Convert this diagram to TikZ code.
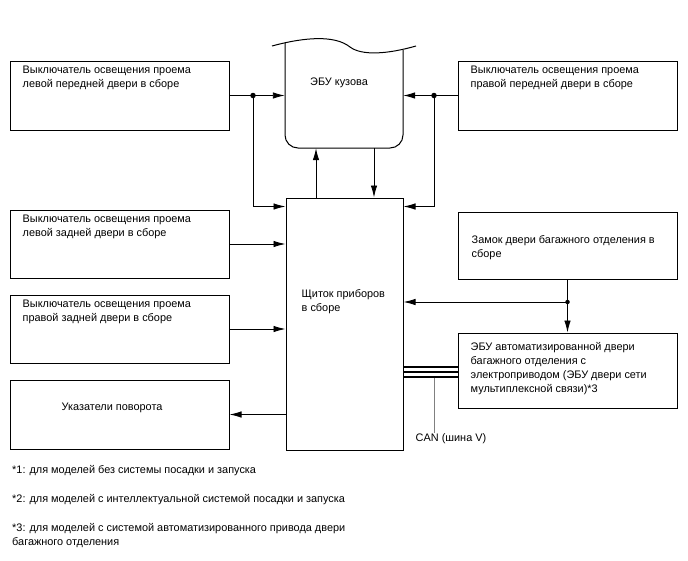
\documentclass[tikz,border=0pt]{standalone}
\usepackage{fontspec}
\setmainfont{Liberation Sans}
\usetikzlibrary{arrows.meta}

\tikzset{
  blk/.style={draw, line width=1pt, minimum width=219pt, minimum height=69pt, inner sep=0pt},
  txt/.style={anchor=north west, inner sep=0pt, align=left, font=\fontsize{10.9}{14}\selectfont},
  arr/.style={-{Latex[length=12pt,width=6.5pt]}, line width=0.9pt},
  jdot/.style={circle, fill, inner sep=0pt, minimum size=5.5pt},
  canline/.style={line width=2.2pt}
}

\begin{document}
\begin{tikzpicture}[x=1pt,y=-1pt]
\useasboundingbox (0,0) rectangle (688,560);

% Blocks
\node[blk] (lf) at (119.5,95.5) {};
\node[blk] (rf) at (567.5,95.5) {};
\node[blk, minimum height=68pt] (lr) at (119.5,244) {};
\node[blk, minimum height=68pt] (rr) at (119.5,329) {};
\node[blk] (ts) at (119.5,414.5) {};
\node[blk, minimum height=67pt] (tl) at (567.5,245.5) {};
\node[blk, minimum height=75pt] (pd) at (567.5,370.5) {};
\node[blk, minimum width=117pt, minimum height=252pt] (ic) at (344.5,324) {};

% Body ECU (torn top edge)
\node[minimum width=118pt, minimum height=103pt, inner sep=0pt] (ecu) at (344,96.5) {};
\draw[line width=1pt, rounded corners=13pt] (285,43) -- (285,148) -- (403,148) -- (403,50);
\draw[line width=1pt] (272,46) .. controls (305,37) and (335,35) .. (350,47)
  .. controls (362,56) and (388,54) .. (416,46);

% Texts
\node[txt] (lft) at ([shift={(13,5)}]lf.north west) {Выключатель освещения проема\\левой передней двери в сборе};
\node[txt] (rft) at ([shift={(13,5)}]rf.north west) {Выключатель освещения проема\\правой передней двери в сборе};
\node[txt] (lrt) at ([shift={(13,5)}]lr.north west) {Выключатель освещения проема\\левой задней двери в сборе};
\node[txt] (rrt) at ([shift={(13,5)}]rr.north west) {Выключатель освещения проема\\правой задней двери в сборе};
\node[txt] (tst) at ([shift={(52,23)}]ts.north west) {Указатели поворота};
\node[txt] (tlt) at ([shift={(14,24)}]tl.north west) {Замок двери багажного отделения в\\сборе};
\node[txt] (pdt) at ([shift={(13,10)}]pd.north west) {ЭБУ автоматизированной двери\\багажного отделения с\\электроприводом (ЭБУ двери сети\\мультиплексной связи)*3};
\node[txt] (ict) at ([shift={(16,92)}]ic.north west) {Щиток приборов\\в сборе};
\node[txt] (ecut) at (310,78) {ЭБУ кузова};

% Junctions
\coordinate (jl) at (253,95.5);
\coordinate (jr) at (434,95.5);
\coordinate (jt) at (567.5,302);
\coordinate (icl) at ([yshift=-9pt]ic.north west);
\coordinate (icr) at ([yshift=-9pt]ic.north east);

% Connectors
\draw[line width=0.9pt] (lf.east) -- (jl);
\draw[arr] (jl) -- (jl -| ecu.west);
\draw[arr] (jl) |- (icl);
\node[jdot] (jld) at (jl) {};
\draw[line width=0.9pt] (rf.west) -- (jr);
\draw[arr] (jr) -- (jr -| ecu.east);
\draw[arr] (jr) |- (icr);
\node[jdot] (jrd) at (jr) {};
\draw[arr] ([xshift=-28.5pt]ic.north) -- ([xshift=-28.5pt]ic.north |- ecu.south);
\draw[arr] ([xshift=29.5pt]ic.north |- ecu.south) -- ([xshift=29.5pt]ic.north);
\draw[arr] (lr.east) -- (lr.east -| ic.west);
\draw[arr] (rr.east) -- (rr.east -| ic.west);
\draw[arr] (ts.east -| ic.west) -- (ts.east);
\draw[line width=0.9pt] (tl.south) -- (jt);
\draw[arr] (jt) -- (jt -| ic.east);
\draw[arr] (jt) -- (pd.north);
\node[jdot, minimum size=4.5pt] (jtd) at (jt) {};

% CAN
\foreach \y in {367,372,377}
  \draw[canline] (ic.east |- 0,\y) -- (pd.west |- 0,\y);
\node[txt, anchor=base] (canl) at (451,441) {CAN (шина V)};
\coordinate (cans) at (434,378);
\draw[gray, line width=1pt] (cans) -- (cans |- canl.north);

% Notes
\node[txt, anchor=base west] (n1) at (12,473) {*1: для моделей без системы посадки и запуска};
\node[txt, anchor=base west] (n2) at (12,502) {*2: для моделей с интеллектуальной системой посадки и запуска};
\node[txt] (n3) at (12,523) {*3: для моделей с системой автоматизированного привода двери\\багажного отделения};

\end{tikzpicture}
\end{document}
